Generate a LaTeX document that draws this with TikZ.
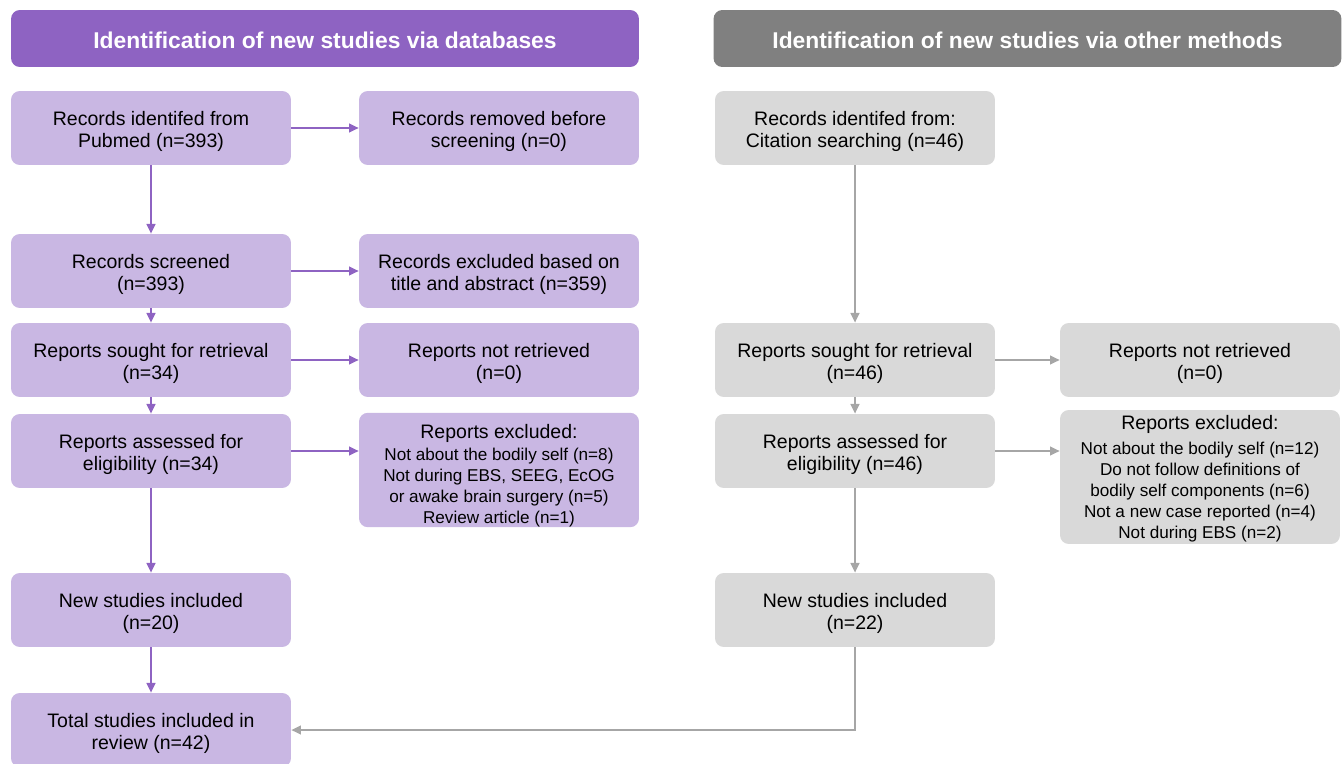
\documentclass[tikz,border=0pt]{standalone}
\usepackage{fontspec}
\setmainfont{Liberation Sans}
\usepackage{tikz}
\usetikzlibrary{arrows.meta}
\definecolor{dbhead}{HTML}{8E63C2}
\definecolor{dbbox}{HTML}{C9B7E3}
\definecolor{othhead}{HTML}{808080}
\definecolor{othbox}{HTML}{D9D9D9}
\definecolor{othline}{HTML}{A6A6A6}
\newcommand\boxsize{\fontsize{11.1pt}{13pt}\selectfont}
\newcommand\exsize{\fontsize{9.75pt}{11.9pt}\selectfont}
\newcommand\topstrut[1][12pt]{\rule{0pt}{#1}}
\tikzset{
	head/.style={rounded corners=5pt, minimum width=12.56cm, minimum height=1.14cm, inner sep=0, text=white, font=\fontsize{13pt}{15pt}\selectfont\bfseries, execute at begin node={\rule{0pt}{11.8pt}}},
	box/.style={rounded corners=5pt, minimum width=5.6cm, minimum height=1.48cm, inner sep=0, align=center, font=\boxsize},
	exbox/.style={font=\exsize},
	dbnode/.style={box, fill=dbbox},
	othnode/.style={box, fill=othbox},
	dbarrow/.style={draw=dbhead, line width=1.1pt, -{Triangle[length=5.5pt,width=5pt]}},
	otharrow/.style={draw=othline, line width=1.1pt, -{Triangle[length=5.5pt,width=5pt]}}
}
\begin{document}
\begin{tikzpicture}[x=0.02cm,y=-0.02cm]
	\useasboundingbox (0,0) rectangle (1343,764);
	% headers
	\node (dbh) at(325,38.5)[head,fill=dbhead]{Identification of new studies via databases};
	\node (othh) at(1027.5,38.5)[head,fill=othhead]{Identification of new studies via other methods};
	% databases
	\node (dbid) at(151,128)[dbnode]{\topstrut Records identifed from\\Pubmed (n=393)};
	\node (dbrem) at(499,128)[dbnode]{\topstrut Records removed before\\screening (n=0)};
	\node (dbscr) at(151,271)[dbnode]{\topstrut Records screened\\(n=393)};
	\node (dbexc) at(499,271)[dbnode]{\topstrut Records excluded based on\\title and abstract (n=359)};
	\node (dbsou) at(151,360)[dbnode]{\topstrut Reports sought for retrieval\\(n=34)};
	\node (dbnot) at(499,360)[dbnode]{\topstrut Reports not retrieved\\(n=0)};
	\node (dbass) at(151,451)[dbnode]{\topstrut Reports assessed for\\eligibility (n=34)};
	\node (dbrex) at(499,470)[dbnode,exbox,minimum height=2.24cm]{{\boxsize\topstrut[14.5pt]Reports excluded:}\\[1pt]Not about the bodily self (n=8)\\Not during EBS, SEEG, EcOG\\or awake brain surgery (n=5)\\Review article (n=1)};
	\node (dbnew) at(151,610)[dbnode]{\topstrut New studies included\\(n=20)};
	\node (total) at(151,730)[dbnode]{\topstrut Total studies included in\\review (n=42)};
	% other methods
	\node (othid) at(855,128)[othnode]{\topstrut Records identifed from:\\Citation searching (n=46)};
	\node (othsou) at(855,360)[othnode]{\topstrut Reports sought for retrieval\\(n=46)};
	\node (othnot) at(1200,360)[othnode]{\topstrut Reports not retrieved\\(n=0)};
	\node (othass) at(855,451)[othnode]{\topstrut Reports assessed for\\eligibility (n=46)};
	\node (othrex) at(1200,477)[othnode,exbox,minimum height=2.68cm]{{\boxsize\topstrut[10pt]Reports excluded:}\\[2pt]Not about the bodily self (n=12)\\Do not follow definitions of\\bodily self components (n=6)\\Not a new case reported (n=4)\\Not during EBS (n=2)};
	\node (othnew) at(855,610)[othnode]{\topstrut New studies included\\(n=22)};
	% arrows
	\draw[dbarrow] (dbid) -- (dbrem);
	\draw[dbarrow] (dbscr) -- (dbexc);
	\draw[dbarrow] (dbsou) -- (dbnot);
	\draw[dbarrow] (dbass.east) -- (dbass.east -| dbrex.west);
	\draw[dbarrow] (dbid) -- (dbscr);
	\draw[dbarrow] (dbscr) -- (dbsou);
	\draw[dbarrow] (dbsou) -- (dbass);
	\draw[dbarrow] (dbass) -- (dbnew);
	\draw[dbarrow] (dbnew) -- (total);
	\draw[otharrow] (othid) -- (othsou);
	\draw[otharrow] (othsou) -- (othnot);
	\draw[otharrow] (othsou) -- (othass);
	\draw[otharrow] (othass.east) -- (othass.east -| othrex.west);
	\draw[otharrow] (othass) -- (othnew);
	\draw[otharrow] (othnew.south) |- (total.east);
\end{tikzpicture}
\end{document}
